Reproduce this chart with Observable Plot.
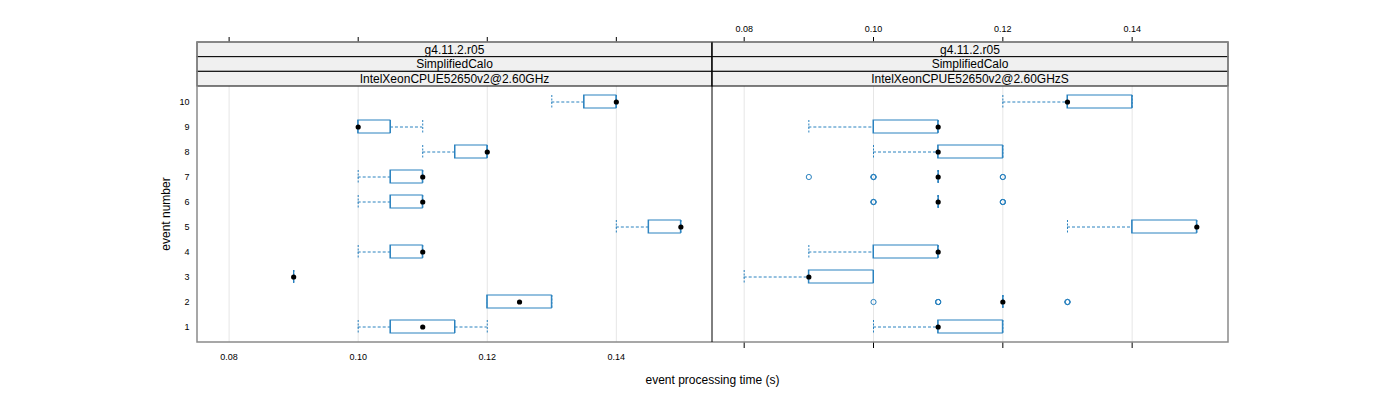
<!DOCTYPE html>
<html><head><meta charset="utf-8">
<script src="https://cdn.jsdelivr.net/npm/d3@7"></script>
<script src="https://cdn.jsdelivr.net/npm/@observablehq/plot@0.6"></script>
<style>
body{margin:0;background:#fff;}
#chart{position:relative;width:1400px;height:400px;font-family:"Liberation Sans",Arial,sans-serif;}
#chart svg{position:absolute;top:0;overflow:visible;font-family:"Liberation Sans",Arial,sans-serif;}
</style></head><body><div id="chart"></div>
<script>
// ---- data ----
const events = [1,2,3,4,5,6,7,8,9,10];
const stripTop = "g4.11.2.r05";
const stripMid = "SimplifiedCalo";
const panels = ["IntelXeonCPUE52650v2@2.60GHz", "IntelXeonCPUE52650v2@2.60GHzS"];
const xTicks = [0.08, 0.10, 0.12, 0.14];
const xLabel = "event processing time (s)";
const yLabel = "event number";

// panel 1 (by event 1..10)
const lo1  = [0.10, 0.12, 0.09, 0.10, 0.14, 0.10, 0.10, 0.11, 0.10, 0.13];
const q1_1 = [0.105,0.12, 0.09, 0.105,0.145,0.105,0.105,0.115,0.10, 0.135];
const med1 = [0.11, 0.125,0.09, 0.11, 0.15, 0.11, 0.11, 0.12, 0.10, 0.14];
const q3_1 = [0.115,0.13, 0.09, 0.11, 0.15, 0.11, 0.11, 0.12, 0.105,0.14];
const hi1  = [0.12, 0.13, 0.09, 0.11, 0.15, 0.11, 0.11, 0.12, 0.11, 0.14];
const outEvent1 = [];
const outTime1 = [];

// panel 2
const lo2  = [0.10, 0.12, 0.08, 0.09, 0.13, 0.11, 0.11, 0.10, 0.09, 0.12];
const q1_2 = [0.11, 0.12, 0.09, 0.10, 0.14, 0.11, 0.11, 0.11, 0.10, 0.13];
const med2 = [0.11, 0.12, 0.09, 0.11, 0.15, 0.11, 0.11, 0.11, 0.11, 0.13];
const q3_2 = [0.12, 0.12, 0.10, 0.11, 0.15, 0.11, 0.11, 0.12, 0.11, 0.14];
const hi2  = [0.12, 0.12, 0.10, 0.11, 0.15, 0.11, 0.11, 0.12, 0.11, 0.14];
const outEvent2 = [7, 7,7,7, 7,7, 6,6,6, 6,6,6, 2, 2,2,2, 2,2,2];
const outTime2  = [0.09, 0.10,0.10,0.10, 0.12,0.12, 0.10,0.10,0.10, 0.12,0.12,0.12, 0.10, 0.11,0.11,0.11, 0.13,0.13,0.13];

// ---- layout / style ----
const W = 1400, H = 400;
const panelLeft = 197, panelMid = 712, panelRight = 1228;
const stripY0 = 42, panelTop = 86, panelBottom = 342;
const blue = "#2a82bf";
const fmt = d3.format(".2f");
const xDomain = [0.0751, 0.1549];

function rows(lo, q1, med, q3, hi) {
  return events.map((e, i) => ({event: e, lo: lo[i], q1: q1[i], med: med[i], q3: q3[i], hi: hi[i]}));
}
function outs(ev, t) { return ev.map((e, i) => ({event: e, time: t[i]})); }

function panelPlot(data, outliers, isLeft) {
  const axes = isLeft ? [
    Plot.axisX(xTicks, {anchor: "bottom", tickSize: 0, tickPadding: 11, tickFormat: fmt, fontSize: 9, label: null}),
    Plot.axisX(xTicks, {anchor: "top", tickSize: 6, tickFormat: () => "", label: null}),
    Plot.axisY(events, {anchor: "left", tickSize: 0, tickPadding: 8, fontSize: 9, label: null})
  ] : [
    Plot.axisX(xTicks, {anchor: "top", tickSize: 6, tickPadding: 5, tickFormat: fmt, fontSize: 9, label: null}),
    Plot.axisX(xTicks, {anchor: "bottom", tickSize: 6, tickFormat: () => "", label: null})
  ];
  return Plot.plot({
    width: isLeft ? panelMid : W - panelMid,
    height: H,
    marginLeft: isLeft ? panelLeft : 0,
    marginRight: isLeft ? 0 : W - panelRight,
    marginTop: stripY0,
    marginBottom: H - panelBottom,
    style: {fontFamily: "Liberation Sans, Arial, sans-serif", color: "#000", background: "transparent"},
    x: {domain: xDomain},
    y: {type: "band", domain: events.slice().reverse(), range: [panelTop, panelBottom], paddingInner: 0.47, paddingOuter: 0.335, axis: null},
    marks: [
      Plot.gridX(xTicks, {stroke: "#e6e6e6", strokeOpacity: 1}),
      Plot.ruleY(data, {y: "event", x1: "lo", x2: "q1", stroke: blue, strokeDasharray: "3,2"}),
      Plot.ruleY(data, {y: "event", x1: "q3", x2: "hi", stroke: blue, strokeDasharray: "3,2"}),
      Plot.tickX(data, {x: "lo", y: "event", stroke: blue, strokeDasharray: "2,1.5"}),
      Plot.tickX(data, {x: "hi", y: "event", stroke: blue, strokeDasharray: "2,1.5"}),
      Plot.barX(data, {x1: "q1", x2: "q3", y: "event", fill: "white", stroke: blue, strokeWidth: 1}),
      Plot.tickX(data, {x: "q1", y: "event", stroke: blue, strokeWidth: 1}),
      Plot.tickX(data, {x: "q3", y: "event", stroke: blue, strokeWidth: 1}),
      Plot.dot(outliers, {x: "time", y: "event", r: 2.6, stroke: blue, fill: "none", strokeWidth: 1}),
      Plot.dot(data, {x: "med", y: "event", r: 2.6, fill: "black", stroke: "none"}),
      ...axes
    ]
  });
}

const chart = d3.select("#chart");
const p1 = panelPlot(rows(lo1, q1_1, med1, q3_1, hi1), outs(outEvent1, outTime1), true);
const p2 = panelPlot(rows(lo2, q1_2, med2, q3_2, hi2), outs(outEvent2, outTime2), false);
p1.style.left = "0px";
p2.style.left = panelMid + "px";
chart.node().appendChild(p1);
chart.node().appendChild(p2);

// overlay: strips, frame, titles
const ov = chart.append("svg").attr("width", W).attr("height", H).style("left", "0px").style("pointer-events", "none");
const stripH = (panelTop - stripY0) / 3;
const stripTexts = panels.map(p => [stripTop, stripMid, p]);
[[panelLeft, panelMid], [panelMid, panelRight]].forEach(([a, b], k) => {
  stripTexts[k].forEach((t, j) => {
    const y = stripY0 + j * stripH;
    ov.append("rect").attr("x", a).attr("y", y).attr("width", b - a).attr("height", stripH)
      .attr("fill", "#f0f0f0").attr("stroke", "#000").attr("stroke-width", 1);
    ov.append("text").attr("x", (a + b) / 2).attr("y", y + stripH / 2).attr("dy", "0.35em")
      .attr("text-anchor", "middle").attr("font-size", 12).text(t);
  });
});
ov.append("rect").attr("x", panelLeft).attr("y", stripY0).attr("width", panelRight - panelLeft).attr("height", panelBottom - stripY0)
  .attr("fill", "none").attr("stroke", "#8a8a8a").attr("stroke-width", 1.5);
ov.append("line").attr("x1", panelMid).attr("x2", panelMid).attr("y1", stripY0).attr("y2", panelBottom)
  .attr("stroke", "#000").attr("stroke-width", 1);
ov.append("text").attr("x", (panelLeft + panelRight) / 2).attr("y", 384).attr("text-anchor", "middle")
  .attr("font-size", 12).text(xLabel);
ov.append("text").attr("transform", `translate(170,${(panelTop + panelBottom) / 2}) rotate(-90)`)
  .attr("text-anchor", "middle").attr("font-size", 12).text(yLabel);
</script></body></html>
